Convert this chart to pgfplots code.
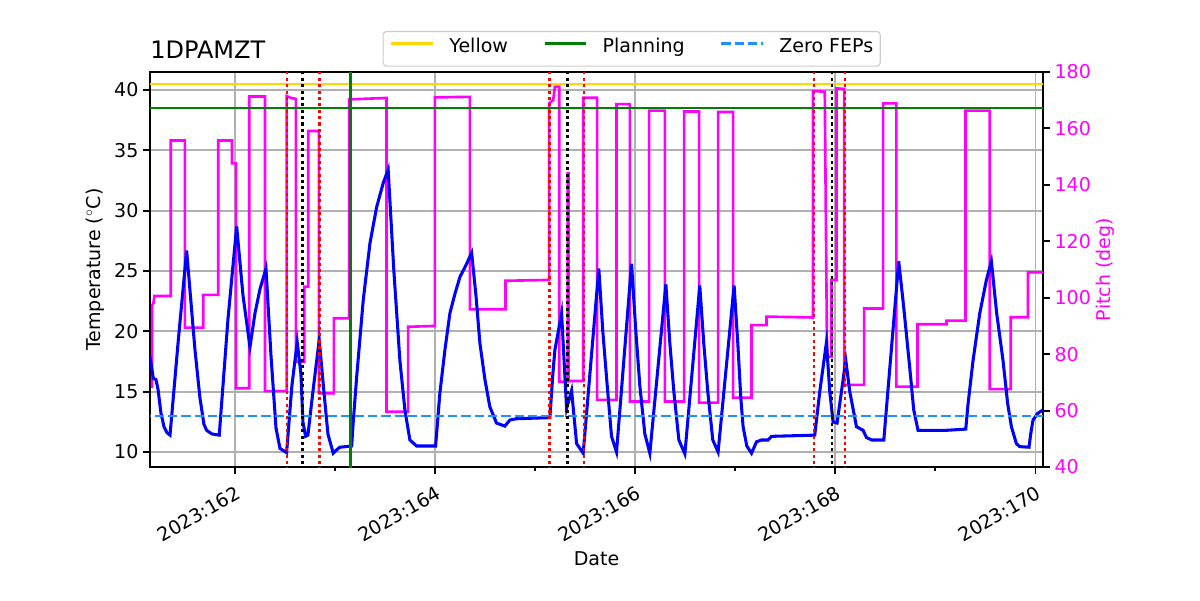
\documentclass[border=0pt]{standalone}
\usepackage{fontspec}
\setmainfont{DejaVu Sans}
\usepackage{pgfplots}
\usepackage{pgfplotstable}
\pgfplotsset{compat=1.18}
\definecolor{mplgold}{HTML}{FFD700}
\definecolor{mplgreen}{HTML}{008000}
\definecolor{dodger}{HTML}{1E90FF}
\definecolor{gridgray}{HTML}{B0B0B0}
\definecolor{legendgray}{HTML}{CCCCCC}
\definecolor{mplmagenta}{HTML}{FF00FF}
\pgfplotsset{set layers}
\newcommand{\fs}{\fontsize{13.7}{16}\selectfont}

\pgfplotstableread{
day temp
161.151 17.9
161.184 16.1
161.211 16.0
161.231 15.2
161.261 13.2
161.291 12.1
161.321 11.6
161.351 11.4
161.431 19.0
161.517 26.7
161.600 18.5
161.650 14.5
161.690 12.3
161.717 11.8
161.770 11.5
161.843 11.4
161.930 21.0
162.017 28.7
162.080 23.0
162.150 18.7
162.200 21.5
162.250 23.5
162.310 25.2
162.360 18.0
162.410 12.0
162.450 10.3
162.516 9.95
162.569 15.5
162.622 19.1
162.659 16.5
162.679 12.5
162.706 11.3
162.729 11.4
162.779 15.0
162.842 19.3
162.889 15.0
162.929 11.5
162.982 9.9
163.019 10.2
163.049 10.4
163.166 10.5
163.182 12.5
163.216 16.2
163.282 22.6
163.349 27.3
163.416 30.3
163.482 32.3
163.531 33.4
163.588 25.0
163.648 17.6
163.698 13.5
163.748 11.0
163.815 10.5
164.005 10.5
164.048 14.9
164.098 18.45
164.148 21.5
164.198 23.1
164.248 24.5
164.315 25.6
164.365 26.5
164.408 23.0
164.448 19.0
164.498 16.0
164.547 13.75
164.614 12.4
164.697 12.15
164.747 12.65
164.814 12.76
165.147 12.85
165.177 16.5
165.197 18.45
165.264 21.5
165.314 13.6
165.364 15.1
165.414 10.7
165.480 9.9
165.636 25.2
165.676 20.0
165.713 16.2
165.763 11.3
165.813 10.0
165.963 25.6
166.006 20.0
166.046 15.5
166.096 11.5
166.146 9.9
166.306 23.9
166.346 19.0
166.386 15.0
166.436 11.0
166.496 9.85
166.645 23.8
166.685 19.0
166.725 15.0
166.775 11.0
166.828 10.0
166.988 23.8
167.025 19.0
167.055 14.5
167.078 12.1
167.115 10.5
167.162 9.9
167.212 10.85
167.262 11.0
167.328 11.0
167.362 11.3
167.794 11.4
167.844 15.0
167.911 19.1
167.944 15.0
167.977 12.5
168.017 12.4
168.104 17.6
168.144 15.0
168.211 12.1
168.277 11.8
168.311 11.2
168.364 11.0
168.484 11.0
168.633 25.8
168.683 22.0
168.743 17.0
168.783 13.5
168.826 11.8
169.110 11.8
169.303 11.9
169.326 14.0
169.376 17.6
169.443 21.5
169.509 24.25
169.559 25.8
169.612 21.5
169.675 17.6
169.722 14.0
169.759 12.1
169.809 10.7
169.842 10.45
169.935 10.4
169.952 11.5
169.975 12.65
170.022 13.2
170.075 13.5
}\temptable

\pgfplotstableread{
day pitch
161.160 68.5
161.172 68.5
161.172 97.4
161.185 98.0
161.195 100.6
161.358 100.6
161.358 155.7
161.500 155.7
161.500 89.4
161.683 89.4
161.683 101.0
161.833 101.0
161.833 155.7
161.970 155.7
161.970 147.6
162.010 147.6
162.010 67.9
162.143 67.9
162.143 171.3
162.300 171.3
162.300 66.9
162.516 66.9
162.516 171.5
162.560 170.8
162.609 170.5
162.609 77.3
162.692 77.3
162.692 103.9
162.732 103.9
162.732 159.1
162.839 159.1
162.839 66.1
162.989 66.1
162.989 92.7
163.142 92.7
163.142 170.3
163.515 170.8
163.515 59.6
163.731 59.6
163.731 89.7
163.998 90.0
163.998 171.0
164.348 171.2
164.348 95.9
164.704 95.9
164.704 106.0
165.140 106.3
165.140 168.9
165.180 170.0
165.197 174.8
165.240 174.8
165.240 70.2
165.324 70.2
165.324 144.1
165.334 144.1
165.334 70.5
165.480 70.5
165.480 170.9
165.619 170.9
165.619 63.8
165.813 63.8
165.813 168.6
165.946 168.6
165.946 63.2
166.139 63.2
166.139 166.3
166.296 166.3
166.296 63.2
166.489 63.2
166.489 166.0
166.638 166.0
166.638 62.8
166.828 62.8
166.828 165.8
166.978 165.8
166.978 64.6
167.162 64.6
167.162 90.3
167.312 90.3
167.312 93.3
167.777 93.0
167.777 173.3
167.894 173.0
167.917 79.1
167.961 79.1
167.961 106.3
168.011 106.3
168.011 174.2
168.087 174.0
168.087 69.1
168.287 69.1
168.287 96.2
168.477 96.2
168.477 168.9
168.610 168.9
168.610 68.5
168.820 68.5
168.820 90.6
169.110 90.6
169.110 91.9
169.300 91.9
169.300 166.3
169.542 166.3
169.542 67.6
169.752 67.6
169.752 93.1
169.925 93.1
169.925 109.0
170.075 109.0
}\pitchtable

\begin{document}
\begin{tikzpicture}[font=\fs]
\pgfplotsset{common/.style={
  scale only axis, width=642.96pt, height=284.4pt, at={(0pt,0pt)}, anchor=south west,
  xmin=161.151, xmax=170.075,
  tick align=outside, major tick length=4.8pt, minor tick length=2.9pt,
  tick style={black, line width=1.4pt},
  axis line style={line width=1.9pt, black},
  tick label style={font=\fs},
  label style={font=\fs},
  /pgf/number format/assume math mode=true,
}}
% Pitch axis (drawn first, below temperature)
\begin{axis}[common,
  axis y line*=right, axis x line=none,
  ymin=40, ymax=180, ytick={40,60,...,180},
  yticklabel style={text=mplmagenta},
  ylabel={Pitch (deg)},
  every axis y label/.style={at={(axis description cs:1,0.5)}, rotate=90, anchor=center, yshift=-44.6pt, text=mplmagenta, font=\fs},
]
\addplot[mplmagenta, line width=1.9pt] table[x=day, y=pitch] {\pitchtable};
\end{axis}
% Temperature axis
\begin{axis}[common,
  ymin=8.76, ymax=41.49, ytick={10,15,...,40},
  xtick={162,164,166,168,170},
  xticklabels={2023:162,2023:164,2023:166,2023:168,2023:170},
  minor xtick={163,165,167,169},
  xtick pos=bottom, ytick pos=left,
  grid=major, major grid style={gridgray, line width=1.4pt},
  xticklabel style={rotate=30, anchor=north east, inner sep=0pt},
  xticklabel shift=8pt,
  xlabel={Date},
  every axis x label/.style={at={(axis description cs:0.5,0)}, anchor=base, yshift=-70.6pt, font=\fs},
  ylabel={Temperature ($^\circ$C)},
  every axis y label/.style={at={(axis description cs:0,0.5)}, rotate=90, anchor=center, yshift=39.6pt, font=\fs},
  title={1DPAMZT},
  every axis title/.style={at={(axis description cs:0,1)}, anchor=base west, yshift=9.9pt, inner sep=0pt, font=\fontsize{17.3}{20}\selectfont},
  legend columns=3,
  legend cell align=left,
  legend image code/.code={\draw[#1] (0pt,3.8pt) -- (30pt,3.8pt);},
  legend style={at={(0.5394,1.0587)}, anchor=center, draw=legendgray, rounded corners=2.5pt, line width=0.8pt,
    inner xsep=5pt, inner ysep=7.5pt, font=\fs,
    nodes={inner sep=0pt, text height=0.76em, text depth=0.24em},
    /tikz/every odd column/.append style={column sep=10.8pt},
    /tikz/every even column/.append style={column sep=25.5pt}},
]
\addplot[blue, line width=2.2pt, forget plot] table[x=day, y=temp] {\temptable};
\addplot[mplgold, line width=1.9pt] coordinates {(160,40.5) (171,40.5)};
\addlegendentry{Yellow}
\addplot[mplgreen, line width=1.9pt] coordinates {(160,38.5) (171,38.5)};
\addlegendentry{Planning}
\addplot[dodger, line width=1.9pt, dash pattern=on 6.7pt off 2.9pt] coordinates {(160,13.0) (171,13.0)};
\addlegendentry{Zero FEPs}
\addplot[mplgreen, line width=1.9pt, forget plot] coordinates {(163.152,0) (163.152,50)};
\addplot[red, line width=2pt, dash pattern=on 2.2pt off 2.4pt, forget plot] coordinates {(162.519,0) (162.519,50)};
\addplot[red, line width=2pt, dash pattern=on 2.2pt off 2.4pt, forget plot] coordinates {(162.842,0) (162.842,50)};
\addplot[black, line width=2pt, dash pattern=on 2.2pt off 2.4pt, forget plot] coordinates {(162.672,0) (162.672,50)};
\addplot[red, line width=2pt, dash pattern=on 2.2pt off 2.4pt, forget plot] coordinates {(165.147,0) (165.147,50)};
\addplot[red, line width=2pt, dash pattern=on 2.2pt off 2.4pt, forget plot] coordinates {(165.487,0) (165.487,50)};
\addplot[black, line width=2pt, dash pattern=on 2.2pt off 2.4pt, forget plot] coordinates {(165.320,0) (165.320,50)};
\addplot[red, line width=2pt, dash pattern=on 2.2pt off 2.4pt, forget plot] coordinates {(167.787,0) (167.787,50)};
\addplot[red, line width=2pt, dash pattern=on 2.2pt off 2.4pt, forget plot] coordinates {(168.097,0) (168.097,50)};
\addplot[black, line width=2pt, dash pattern=on 2.2pt off 2.4pt, forget plot] coordinates {(167.967,0) (167.967,50)};
\end{axis}
\pgfresetboundingbox
\path[use as bounding box] (-108pt,-95.76pt) rectangle (756pt,336.24pt);
\end{tikzpicture}
\end{document}
